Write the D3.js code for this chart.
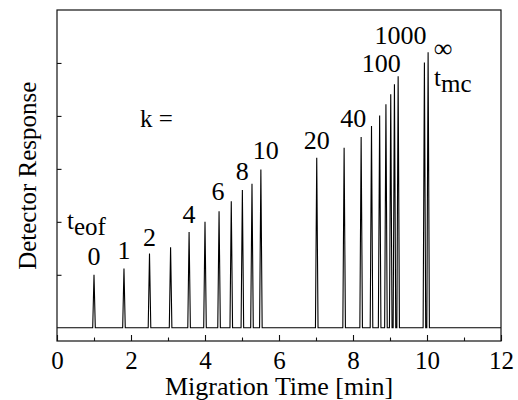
<!DOCTYPE html>
<html>
<head>
<meta charset="utf-8">
<script src="https://cdn.jsdelivr.net/npm/d3@7"></script>
<style>
  html, body { margin: 0; padding: 0; background: #fff; }
  svg text { font-family: "Liberation Serif", "Times New Roman", serif; fill: #000; }
</style>
</head>
<body>
<svg id="chart" width="518" height="400"></svg>
<script>
// Migration times of the analyte peaks [min]
const peakTimes = [1.0, 1.81, 2.5, 3.07, 3.57, 4.0, 4.38, 4.71, 5.01, 5.27, 5.51,
                   7.02, 7.76, 8.22, 8.5, 8.72, 8.89, 9.02, 9.12, 9.22, 9.93, 10.03];
// Peak heights (detector response, arbitrary units)
const peakHeights = [1.0, 1.12, 1.40, 1.52, 1.81, 2.0, 2.2, 2.39, 2.6, 2.72, 2.99,
                     3.21, 3.40, 3.60, 3.81, 4.01, 4.22, 4.41, 4.60, 4.75, 5.01, 5.2];
// Retention factor labels, one per peak ("" = unlabeled)
const peakLabels = ["0", "1", "2", "", "4", "", "6", "", "8", "", "10",
                    "20", "", "40", "", "", "", "", "", "100", "1000", ""];
// Axis ticks
const xMajorTicks = [0, 2, 4, 6, 8, 10, 12];
const xMinorTicks = [1, 3, 5, 7, 9, 11];
const yTicks = [1, 2, 3, 4, 5];

const svg = d3.select("#chart");
const margin = { left: 57, right: 17, top: 10, bottom: 59 };
const W = 518, H = 400;

const x = d3.scaleLinear().domain([0, 12]).range([margin.left, W - margin.right]);
const y = d3.scaleLinear().domain([-0.25, 6]).range([H - margin.bottom, margin.top]);

// Detector trace: flat baseline with narrow triangular peaks
const halfWidth = 0.035;
const trace = [[0, 0]];
peakTimes.forEach((t, i) => {
  trace.push([t - halfWidth, 0], [t, peakHeights[i]], [t + halfWidth, 0]);
});
trace.push([12, 0]);
trace.sort((a, b) => a[0] - b[0]);

svg.append("path")
  .datum(trace)
  .attr("fill", "none")
  .attr("stroke", "#000")
  .attr("stroke-width", 1.1)
  .attr("stroke-linejoin", "miter")
  .attr("d", d3.line().x(d => x(d[0])).y(d => y(d[1])));

// Frame
svg.append("rect")
  .attr("x", x(0)).attr("y", y(6))
  .attr("width", x(12) - x(0)).attr("height", y(-0.25) - y(6))
  .attr("fill", "none").attr("stroke", "#111").attr("stroke-width", 1.2);

// Bottom axis: inward ticks
const xAxis = svg.append("g").attr("transform", `translate(0,${y(-0.25)})`);
xAxis.call(d3.axisBottom(x).tickValues(xMajorTicks).tickSizeInner(-6).tickSizeOuter(0).tickPadding(10).tickFormat(d3.format("d")));
xAxis.append("g").call(d3.axisBottom(x).tickValues(xMinorTicks).tickSizeInner(-3.5).tickSizeOuter(0).tickFormat(""));
xAxis.selectAll(".domain").remove();
xAxis.selectAll("line").attr("stroke", "#111").attr("stroke-width", 1.1);
xAxis.selectAll("text").attr("font-size", 25).attr("fill", "#000");

// Left axis: inward ticks, no labels
const yAxis = svg.append("g").attr("transform", `translate(${x(0)},0)`);
yAxis.call(d3.axisLeft(y).tickValues(yTicks).tickSizeInner(-4.5).tickSizeOuter(0).tickFormat(""));
yAxis.selectAll(".domain").remove();
yAxis.selectAll("line").attr("stroke", "#111").attr("stroke-width", 1.1);

// Axis titles
svg.append("text")
  .attr("x", (x(0) + x(12)) / 2).attr("y", 395)
  .attr("text-anchor", "middle").attr("font-size", 26)
  .text("Migration Time [min]");

svg.append("text")
  .attr("transform", `translate(36,${y(2.87)}) rotate(-90)`)
  .attr("text-anchor", "middle").attr("font-size", 25)
  .text("Detector Response");

// Peak labels (pixel offsets from each peak apex)
const labelOffsets = {
  "0": [0, -10], "1": [0, -9], "2": [0, -8], "4": [0, -9], "6": [-1, -11],
  "8": [0, -10], "10": [5, -10], "20": [0, -9], "40": [-8, -10],
  "100": [-17, -4], "1000": [-24, -18]
};
const labelG = svg.append("g").attr("font-size", 26).attr("text-anchor", "middle");
peakTimes.forEach((t, i) => {
  const lab = peakLabels[i];
  if (!lab) return;
  const [dx, dy] = labelOffsets[lab] || [0, -10];
  labelG.append("text")
    .attr("x", x(t) + dx).attr("y", y(peakHeights[i]) + dy)
    .text(lab);
});

// "k =" caption
svg.append("text")
  .attr("x", x(2.24)).attr("y", y(3.79))
  .attr("font-size", 25)
  .text("k =");

// Infinity label beside the last peak
const last = peakTimes.length - 1;
svg.append("text")
  .attr("x", x(peakTimes[last]) + 15).attr("y", y(peakHeights[last]) + 5)
  .attr("text-anchor", "middle").attr("font-size", 26)
  .text("\u221E");

// t_eof marker near the first peak
const teof = svg.append("text")
  .attr("x", x(peakTimes[0]) - 27).attr("y", y(peakHeights[0]) - 46)
  .attr("font-size", 25);
teof.append("tspan").text("t");
teof.append("tspan").attr("dy", 6).text("eof");

// t_mc marker beside the last peak
const tmc = svg.append("text")
  .attr("x", x(peakTimes[last]) + 6).attr("y", y(peakHeights[last]) + 34)
  .attr("font-size", 25);
tmc.append("tspan").text("t");
tmc.append("tspan").attr("dy", 6).text("mc");
</script>
</body>
</html>
